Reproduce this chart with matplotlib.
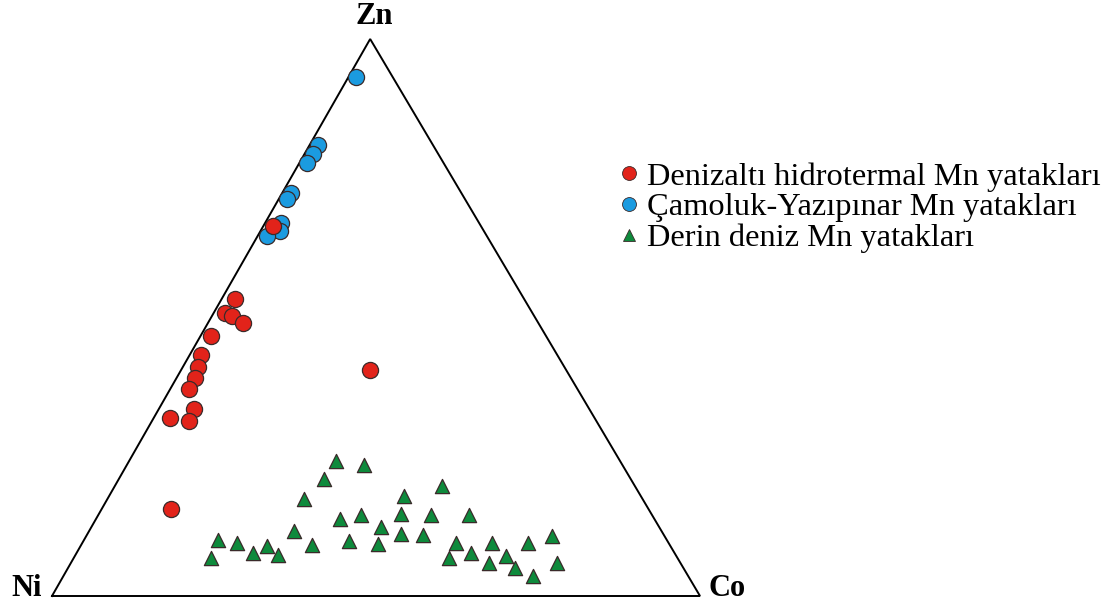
import numpy as np
import matplotlib as mpl
mpl.use('Agg')
import matplotlib.pyplot as plt

mpl.rcParams['font.family'] = 'serif'
mpl.rcParams['font.serif'] = ['Liberation Serif', 'DejaVu Serif']

# ---------------------------------------------------------------------------
# Data (ternary %, Ni = 100 - Zn - Co)
# ---------------------------------------------------------------------------

RED_ZN = [66.5, 53.4, 50.8, 50.3, 49.1, 46.6, 43.3, 41.1, 39.1, 37.2,
          33.6, 32.0, 31.4, 40.6, 15.7]
RED_CO = [1.5, 2.0, 1.7, 3.1, 5.4, 1.6, 1.7, 2.4, 2.9, 2.9,
          5.4, 2.5, 5.7, 29.2, 10.7]

BLUE_ZN = [93.1, 81.0, 79.3, 77.8, 72.3, 71.2, 66.9, 65.6, 64.6]
BLUE_CO = [1.2, 1.3, 1.3, 1.2, 1.4, 1.3, 2.5, 3.0, 1.4]

GREEN_ZN = [24.2, 23.5, 21.0, 17.4, 19.8, 17.9, 14.8, 14.5, 14.5, 13.8,
            12.4, 11.7, 11.1, 11.0, 9.9, 9.3, 9.1, 10.1, 9.5, 8.9,
            7.8, 7.4, 6.8, 14.5, 9.5, 9.5, 9.6, 10.8, 6.9, 7.7,
            7.1, 5.9, 5.1, 3.6, 5.9]
GREEN_CO = [31.9, 36.6, 31.6, 30.3, 50.5, 45.6, 46.6, 51.3, 40.6, 37.7,
            44.7, 31.6, 48.4, 51.9, 40.9, 45.8, 35.6, 20.7, 23.9, 28.8,
            27.2, 31.3, 21.2, 57.3, 57.7, 63.2, 68.8, 71.8, 57.9, 60.9,
            66.6, 64.6, 69.0, 72.5, 75.1]

LABELS = ['Denizaltı hidrotermal Mn yatakları',
          'Çamoluk-Yazıpınar Mn yatakları',
          'Derin deniz Mn yatakları']
COLORS = ['#E2231A', '#1B9BE0', '#0E8A3C']

APEX_X = 0.491   # Zn apex sits slightly left of the base midpoint


def tern_xy(zn, co):
    zn = np.asarray(zn) / 100.0
    co = np.asarray(co) / 100.0
    return co + APEX_X * zn, zn


# ---------------------------------------------------------------------------
# Figure
# ---------------------------------------------------------------------------

W, H = 1118, 609
fig = plt.figure(figsize=(W / 100, H / 100), dpi=100)
ax = fig.add_axes([52 / W, 13 / H, 648 / W, 557 / H])
ax.set_xlim(0, 1)
ax.set_ylim(0, 1)
ax.axis('off')

# triangle frame
tx, ty = tern_xy([0, 0, 100, 0], [0, 100, 0, 0])
ax.plot(tx, ty, color='black', lw=1.4, clip_on=False, zorder=1,
        solid_joinstyle='miter')

ec = '#3a2a2a'
x, y = tern_xy(RED_ZN, RED_CO)
ax.scatter(x, y, s=135, marker='o', color=COLORS[0], edgecolor=ec,
           linewidth=0.9, clip_on=False, zorder=3)
x, y = tern_xy(BLUE_ZN, BLUE_CO)
ax.scatter(x, y, s=135, marker='o', color=COLORS[1], edgecolor=ec,
           linewidth=0.9, clip_on=False, zorder=2)
x, y = tern_xy(GREEN_ZN, GREEN_CO)
ax.scatter(x, y, s=105, marker='^', color=COLORS[2], edgecolor=ec,
           linewidth=0.9, clip_on=False, zorder=3)

# vertex labels
fig.text(374 / W, 1 - 16 / H, 'Zn', ha='center', va='center',
         fontsize=22, fontweight='bold')
fig.text(27 / W, 1 - 589 / H, 'Ni', ha='center', va='center',
         fontsize=22, fontweight='bold')
fig.text(727 / W, 1 - 589 / H, 'Co', ha='center', va='center',
         fontsize=22, fontweight='bold')

# legend
handles = [
    plt.Line2D([], [], ls='none', marker='o', ms=10, mfc=COLORS[0],
               mec=ec, mew=0.6),
    plt.Line2D([], [], ls='none', marker='o', ms=10, mfc=COLORS[1],
               mec=ec, mew=0.6),
    plt.Line2D([], [], ls='none', marker='^', ms=8, mfc=COLORS[2],
               mec=ec, mew=0.6),
]
fig.legend(handles, LABELS, loc='upper left',
           bbox_to_anchor=(621 / W, 1 - 162 / H), frameon=False,
           fontsize=23.4, handlelength=0.5, handletextpad=0.3,
           labelspacing=0.03, borderpad=0, borderaxespad=0)

fig.savefig('out.png', dpi=100, facecolor='white')
